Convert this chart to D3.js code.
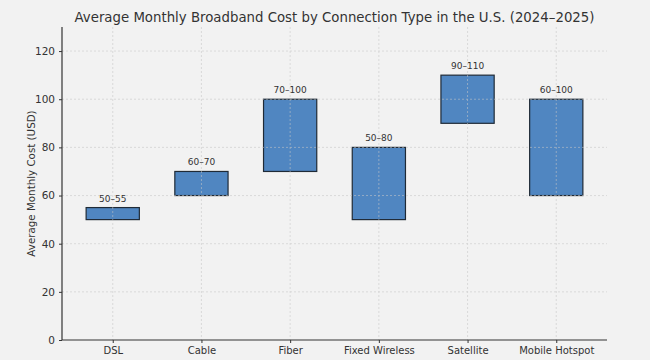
<!DOCTYPE html>
<html><head><meta charset="utf-8">
<script src="https://cdn.jsdelivr.net/npm/d3@7"></script>
<style>
html,body{margin:0;padding:0;background:#f2f2f2;}
svg{display:block;font-family:"DejaVu Sans",sans-serif;}
</style></head>
<body><svg id="chart" width="650" height="360"></svg>
<script>
const categories = ["DSL","Cable","Fiber","Fixed Wireless","Satellite","Mobile Hotspot"];
const lowValues = [50,60,70,50,90,60];
const highValues = [55,70,100,80,110,100];
const rangeLabels = ["50–55","60–70","70–100","50–80","90–110","60–100"];
const yTicks = [0,20,40,60,80,100,120];
const title = "Average Monthly Broadband Cost by Connection Type in the U.S. (2024–2025)";
const yLabel = "Average Monthly Cost (USD)";

const svg = d3.select("#chart");
const W = 650, H = 360;
svg.append("rect").attr("width",W).attr("height",H).attr("fill","#f2f2f2");
const m = {left:62, right:607, top:27, bottom:340};

const x = d3.scalePoint().domain(categories).range([m.left,m.right]).padding(0.572);
const y = d3.scaleLinear().domain([0,130]).range([m.bottom,m.top]);
const bw = x.step()*0.6;

const data = categories.map((c,i)=>({c, lo:lowValues[i], hi:highValues[i], label:rangeLabels[i]}));

// bars
svg.append("g").selectAll("rect").data(data).join("rect")
  .attr("x",d=>x(d.c)-bw/2).attr("width",bw)
  .attr("y",d=>y(d.hi)).attr("height",d=>y(d.lo)-y(d.hi))
  .attr("fill","#5086c1").attr("stroke","#1f2a36").attr("stroke-width",1.2);

// grid (on top, light)
const grid = svg.append("g").attr("stroke","#c8c8c8").attr("stroke-width",0.8).attr("stroke-dasharray","2,2").attr("opacity",0.7);
grid.selectAll("line.h").data(yTicks.filter(t=>t>0)).join("line")
  .attr("x1",m.left).attr("x2",m.right).attr("y1",d=>y(d)).attr("y2",d=>y(d));
grid.selectAll("line.v").data(categories).join("line")
  .attr("x1",d=>x(d)).attr("x2",d=>x(d)).attr("y1",m.top).attr("y2",m.bottom);

// labels
svg.append("g").selectAll("text").data(data).join("text")
  .attr("x",d=>x(d.c)).attr("y",d=>y(d.hi)-6)
  .attr("text-anchor","middle").attr("font-size",9).attr("fill","#333")
  .text(d=>d.label);

// axes
const xAxis = svg.append("g").attr("transform",`translate(0,${m.bottom})`)
  .call(d3.axisBottom(x).tickSize(3).tickPadding(4));
xAxis.select(".domain").attr("d",`M${m.left},0H${m.right}`).attr("stroke","#333").attr("stroke-width",1.2);
xAxis.selectAll("text").attr("font-size",10).attr("fill","#333").attr("font-family","DejaVu Sans");
xAxis.selectAll(".tick line").attr("stroke","#333");

const yAxis = svg.append("g").attr("transform",`translate(${m.left},0)`)
  .call(d3.axisLeft(y).tickValues(yTicks).tickSize(3).tickPadding(4));
yAxis.select(".domain").attr("d",`M0,${m.top}V${m.bottom}`).attr("stroke","#333").attr("stroke-width",1.2);
yAxis.selectAll("text").attr("font-size",10.5).attr("fill","#333").attr("font-family","DejaVu Sans");
yAxis.selectAll(".tick line").attr("stroke","#333");

svg.append("text").attr("transform",`translate(35,${(m.top+m.bottom)/2}) rotate(-90)`)
  .attr("text-anchor","middle").attr("font-size",10.3).attr("fill","#333").text(yLabel);

svg.append("text").attr("x",(m.left+m.right)/2).attr("y",22)
  .attr("text-anchor","middle").attr("font-size",14).attr("fill","#333")
  .attr("textLength",520).attr("lengthAdjust","spacingAndGlyphs").text(title);
</script></body></html>
